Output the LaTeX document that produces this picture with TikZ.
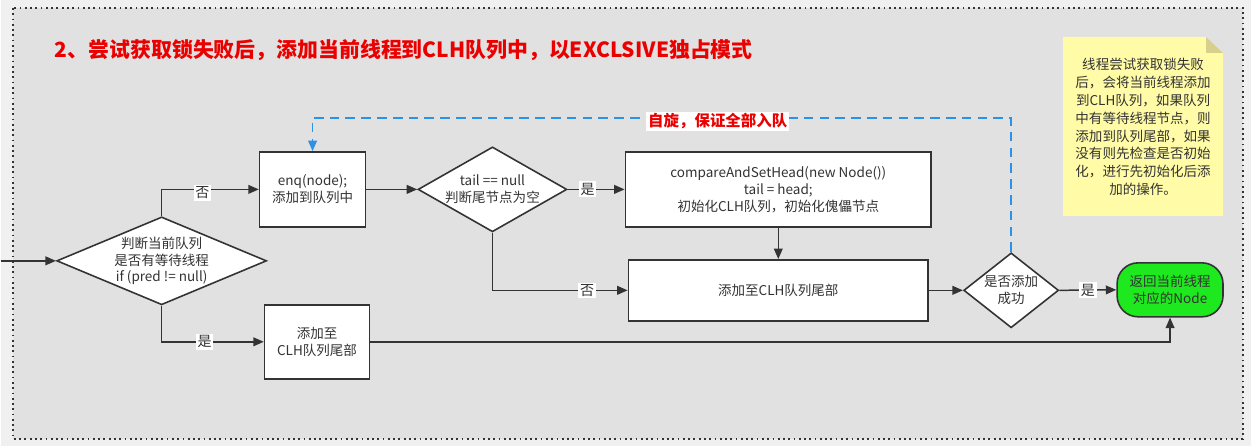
\documentclass[tikz,border=0pt]{standalone}
\usepackage{fontspec}
\setmainfont{Noto Sans CJK SC}
\usetikzlibrary{shapes.geometric,arrows.meta}
\definecolor{outerbg}{RGB}{240,240,240}
\definecolor{innerbg}{RGB}{225,225,225}
\definecolor{linegray}{RGB}{51,51,51}
\definecolor{titlered}{RGB}{235,0,0}
\definecolor{spinblue}{RGB}{45,145,230}
\definecolor{retgreen}{RGB}{30,232,30}
\definecolor{noteyellow}{RGB}{255,251,166}
\definecolor{notefold}{RGB}{214,208,140}
\begin{document}
\begin{tikzpicture}[x = 0.02cm, y = -0.02cm,
    font = \fontsize{7.7}{9.6}\selectfont,
    box/.style = {draw = linegray, fill = white, line width = 0.9pt, inner sep = 0pt, align = center, text = linegray},
    dec/.style = {box, diamond},
    txt/.style = {align = center, text = linegray, inner sep = 0pt},
    flow/.style = {draw = linegray, line width = 0.85pt, -{Stealth[inset = 0pt, length = 6pt, width = 5pt]}},
    yesno/.style = {fill = white, inner sep = 1pt, text = linegray, font = \fontsize{8}{9.6}\selectfont},
    spin/.style = {draw = spinblue, line width = 0.85pt, dash pattern = on 5.5pt off 3.5pt, -{Stealth[inset = 0pt, length = 6pt, width = 5pt]}}]
    % background and dotted frame
    \fill [outerbg] (0, 0) rectangle (1251, 446);
    \draw [linegray, dotted, line width = 1pt, fill = innerbg] (12, 8) rectangle (1243, 439);
    \node [anchor = west, text = titlered, font = \fontsize{11.9}{14}\selectfont\bfseries] (title) at (48, 50)
        {2、尝试获取锁失败后，添加当前线程到CLH队列中，以EXCLSIVE独占模式};

    % decisions
    \node [dec, minimum width = 4.2cm, minimum height = 1.76cm] (d1) at (161, 261) {};
    \node [txt] (d1t) at (d1) {判断当前队列\\是否有等待线程\\if (pred != null)};
    \node [dec, minimum width = 2.98cm, minimum height = 1.7cm] (d2) at (492, 189.5) {};
    \node [txt] (d2t) at (d2) {tail == null\\判断尾节点为空};
    \node [dec, minimum width = 1.9cm, minimum height = 1.5cm] (d3) at (1011, 290.5) {};
    \node [txt] (d3t) at (d3) {是否添加\\成功};

    % boxes
    \node [box, minimum width = 2.12cm, minimum height = 1.5cm] (enq) at (312, 189.5) {enq(node);\\添加到队列中};
    \node [box, minimum width = 2.1cm, minimum height = 1.48cm] (tailA) at (316.5, 342) {添加至\\CLH队列尾部};
    \node [box, minimum width = 6.12cm, minimum height = 1.5cm] (init) at (778, 189.5)
        {compareAndSetHead(new Node())\\tail = head;\\初始化CLH队列，初始化傀儡节点};
    \node [box, minimum width = 6cm, minimum height = 1.22cm] (tailB) at (778, 290.5) {添加至CLH队列尾部};
    \node [box, fill = retgreen, rounded corners = 0.42cm, minimum width = 2.12cm, minimum height = 1.08cm] (ret) at (1170, 290)
        {返回当前线程\\对应的Node};

    % note
    \fill [noteyellow] (1063, 37) -- (1206, 37) -- (1223, 53) -- (1223, 216) -- (1063, 216) -- cycle;
    \fill [notefold] (1206, 37) -- (1206, 53) -- (1223, 53) -- cycle;
    \node [txt, font = \fontsize{7.7}{10.2}\selectfont] (note) at (1143, 127)
        {线程尝试获取锁失败\\后，会将当前线程添加\\到CLH队列，如果队列\\中有等待线程节点，则\\添加到队列尾部，如果\\没有则先检查是否初始\\化，进行先初始化后添\\加的操作。};

    % connectors
    \coordinate (in) at (0, 261);
    \draw [flow] (in) -- (d1.west);
    \draw [flow] (d1.north) |- (enq.west) node [yesno, pos = 0.71, yshift = -2pt] (no1) {否};
    \draw [flow] (d1.south) |- (tailA.west) node [yesno, pos = 0.71] (yes1) {是};
    \draw [flow] (enq.east) -- (d2.west);
    \draw [flow] (d2.east) -- (init.west) node [yesno, pos = 0.35] (yes2) {是};
    \draw [flow] (d2.south) |- (tailB.west) node [yesno, pos = 0.85] (no2) {否};
    \draw [flow] (init.south) -- (tailB.north);
    \draw [flow] (tailB.east) -- (d3.west);
    \draw [flow] (d3.east) -- (ret.west) node [yesno, midway] (yes3) {是};
    \draw [flow] (tailA.east) -| (ret.south);
    \coordinate (sp) at (1011, 118);
    \draw [spin] (d3.north) -- (sp) -| (enq.north)
        node [pos = 0.21, yshift = -2pt, fill = white, inner sep = 1pt, text = titlered, font = \fontsize{8.8}{10}\selectfont\bfseries] (spinlab) {自旋，保证全部入队};
\end{tikzpicture}
\end{document}
